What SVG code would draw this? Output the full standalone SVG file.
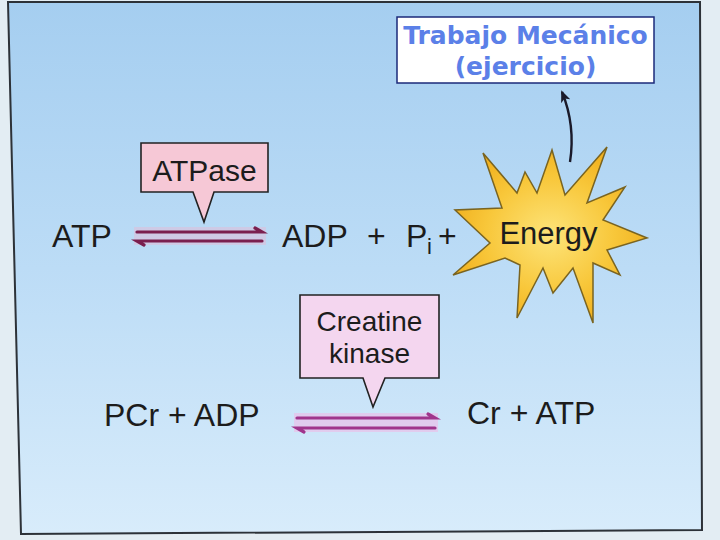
<svg xmlns="http://www.w3.org/2000/svg" width="720" height="540" viewBox="0 0 720 540">
  <defs>
    <linearGradient id="bg" x1="0" y1="0" x2="0" y2="1">
      <stop offset="0" stop-color="#a5cef0"/>
      <stop offset="0.5" stop-color="#bcdcf6"/>
      <stop offset="1" stop-color="#d8ecfb"/>
    </linearGradient>
    <radialGradient id="starfill" cx="0.5" cy="0.5" r="0.55">
      <stop offset="0" stop-color="#fde47a"/>
      <stop offset="0.6" stop-color="#f8c73a"/>
      <stop offset="1" stop-color="#f0ae1c"/>
    </radialGradient>
    <marker id="ah" viewBox="0 0 12 10" refX="10" refY="5" markerWidth="12" markerHeight="10" markerUnits="userSpaceOnUse" orient="auto">
      <path d="M0,0 L12,5 L0,10 L3,5 z" fill="#1a1a2a"/>
    </marker>
    <style>
      .lbl { font-family: "Liberation Sans", Arial, sans-serif; fill: #1c1c1c; }
      .work { font-family: "DejaVu Sans", Verdana, sans-serif; font-weight: bold; fill: #5b80e8; font-size: 25px; }
      .enz { stroke: #222; stroke-width: 1.6; }
      .eqA { stroke: #7a1f4f; stroke-width: 3.2; fill: none; stroke-linecap: round; }
      .eqB { stroke: #a0358c; stroke-width: 3.2; fill: none; stroke-linecap: round; }
    </style>
  </defs>

  <!-- background -->
  <rect x="0" y="0" width="720" height="540" fill="#e3edf3"/>
  <polygon points="8,2 700,2 702,530 21,534" fill="url(#bg)" stroke="#2d3238" stroke-width="2"/>

  <!-- connectors -->
  <g id="connectors">
    <path d="M570,162 C574,136 571,114 562,92" fill="none" stroke="#1a1a2a" stroke-width="2.4" marker-end="url(#ah)"/>
    <g id="eq-atpase">
      <rect x="134" y="227" width="132" height="18" fill="#e9b6d2" opacity="0.45"/>
      <path class="eqA" d="M137,232 L262,232 L255,228"/>
      <path class="eqA" d="M262,241 L137,241 L144,245"/>
    </g>
    <g id="eq-ck">
      <rect x="294" y="413" width="144" height="19" fill="#f3b6e6" opacity="0.55"/>
      <path class="eqB" d="M297,418 L435,418 L428,414"/>
      <path class="eqB" d="M435,428 L297,428 L304,432"/>
    </g>
  </g>

  <!-- Trabajo Mecanico -->
  <g id="trabajo">
    <rect x="397" y="17" width="257" height="66" fill="#ffffff" stroke="#1b2a7a" stroke-width="1.5"/>
    <text class="work" x="525.5" y="44" text-anchor="middle">Trabajo Mecánico</text>
    <text class="work" x="525.5" y="75" text-anchor="middle">(ejercicio)</text>
  </g>

  <!-- ATPase -->
  <g id="atpase">
    <path class="enz" d="M141,143 L268,143 L268,192 L214,192 L204,222 L193,192 L141,192 Z" fill="#f6c8d6"/>
    <text class="lbl" x="204.5" y="181" font-size="30" text-anchor="middle">ATPase</text>
  </g>

  <!-- ATP -->
  <g id="atp">
    <text class="lbl" x="52" y="247" font-size="32">ATP</text>
  </g>

  <!-- ADP + Pi + -->
  <g id="adp-pi">
    <text class="lbl" x="282" y="247" font-size="32">ADP</text>
    <text class="lbl" x="367" y="247" font-size="32">+</text>
    <text class="lbl" x="406" y="247" font-size="32">P</text>
    <text class="lbl" x="427" y="254" font-size="22">i</text>
    <text class="lbl" x="438" y="247" font-size="32">+</text>
  </g>

  <!-- Energy star -->
  <g id="energy">
    <polygon points="483,153 517,193 525,172 537,193 552,150 565,195 607,147 587,203 625,187 603,220 647,238 607,250 620,275 593,263 593,323 573,268 553,293 543,268 517,318 520,265 505,258 453,275 490,243 455,210 502,208" fill="url(#starfill)" stroke="#7a6420" stroke-width="1.5" stroke-linejoin="miter"/>
    <text class="lbl" x="548.5" y="244" font-size="31" text-anchor="middle" fill="#2a1a08">Energy</text>
  </g>

  <!-- Creatine kinase -->
  <g id="creatine-kinase">
    <path class="enz" d="M300,295 L439,295 L439,378 L385,378 L373,407 L363,378 L300,378 Z" fill="#f4d6ef"/>
    <text class="lbl" x="369.5" y="331" font-size="28" text-anchor="middle">Creatine</text>
    <text class="lbl" x="369.5" y="363" font-size="28" text-anchor="middle">kinase</text>
  </g>

  <!-- PCr + ADP -->
  <g id="pcr-adp">
    <text class="lbl" x="104" y="426" font-size="32">PCr + ADP</text>
  </g>

  <!-- Cr + ATP -->
  <g id="cr-atp">
    <text class="lbl" x="467" y="424" font-size="32">Cr + ATP</text>
  </g>
</svg>
